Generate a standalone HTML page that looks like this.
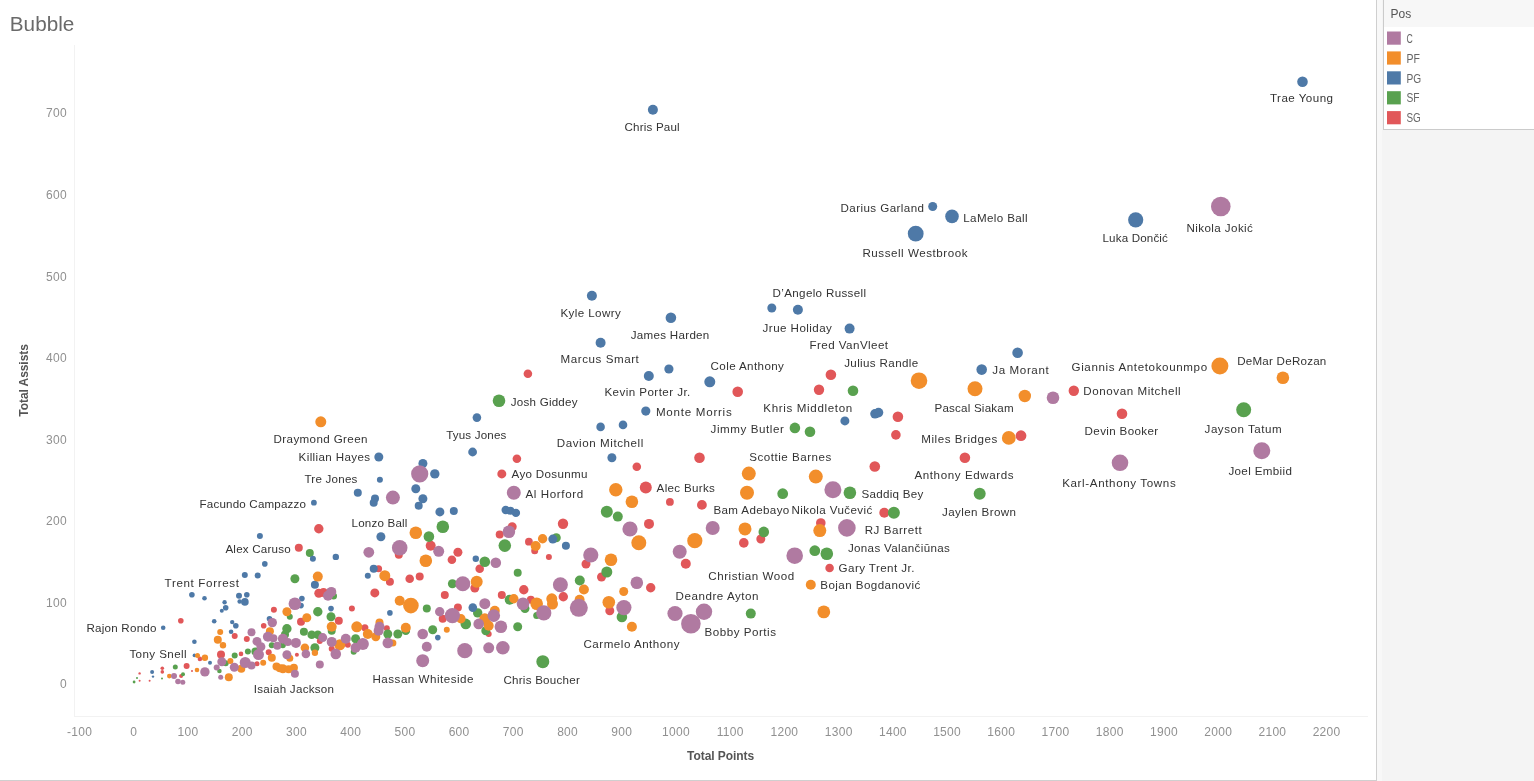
<!DOCTYPE html>
<html><head><meta charset="utf-8"><title>Bubble</title>
<style>
html,body{margin:0;padding:0;background:#fff;}
body{width:1534px;height:781px;overflow:hidden;position:relative;font-family:"Liberation Sans",sans-serif;}
svg{position:absolute;left:0;top:0;will-change:transform;}
text{font-family:"Liberation Sans",sans-serif;}
.lb{font-size:11.6px;fill:#333;}
.tk{font-size:12px;fill:#909090;letter-spacing:0.3px;}
.ax{font-size:12px;font-weight:bold;fill:#555;}
.lg{font-size:12px;fill:#666;}
</style></head><body>
<svg width="1534" height="781" viewBox="0 0 1534 781">
<rect x="0" y="0" width="1534" height="781" fill="#ffffff"/>
<!-- right panel -->
<rect x="1377" y="0" width="157" height="781" fill="#f4f4f4"/>
<rect x="1377" y="0" width="5" height="781" fill="#f8f8f8"/>
<rect x="1376" y="0" width="1" height="781" fill="#cfcfcf"/>
<rect x="0" y="780" width="1377" height="1" fill="#cfcfcf"/>
<!-- legend -->
<rect x="1383.5" y="-1" width="160" height="130.5" fill="#ffffff" stroke="#cbcbcb" stroke-width="1"/>
<rect x="1384" y="0" width="150" height="27" fill="#f7f7f7"/>
<text x="1390.5" y="18" class="lg" style="fill:#555">Pos</text>

<rect x="1387" y="31.5" width="13.8" height="13.2" fill="#b07aa1"/>
<text x="1406.5" y="42.7" class="lg" textLength="6.3" lengthAdjust="spacingAndGlyphs">C</text>
<rect x="1387" y="51.4" width="13.8" height="13.2" fill="#f28e2b"/>
<text x="1406.5" y="62.6" class="lg" textLength="13.4" lengthAdjust="spacingAndGlyphs">PF</text>
<rect x="1387" y="71.3" width="13.8" height="13.2" fill="#4e79a7"/>
<text x="1406.5" y="82.5" class="lg" textLength="14.7" lengthAdjust="spacingAndGlyphs">PG</text>
<rect x="1387" y="91.2" width="13.8" height="13.2" fill="#59a14f"/>
<text x="1406.5" y="102.4" class="lg" textLength="13.1" lengthAdjust="spacingAndGlyphs">SF</text>
<rect x="1387" y="111.1" width="13.8" height="13.2" fill="#e15759"/>
<text x="1406.5" y="122.3" class="lg" textLength="14.3" lengthAdjust="spacingAndGlyphs">SG</text>
<!-- title -->
<text x="9.8" y="31.3" style="font-size:20px;fill:#6a6a6a" textLength="64.5" lengthAdjust="spacingAndGlyphs">Bubble</text>
<!-- axes -->
<rect x="74" y="45" width="1" height="672" fill="#f2f2f2"/>
<rect x="74" y="716" width="1294" height="1" fill="#f2f2f2"/>

<text x="66.9" y="688.4" text-anchor="end" class="tk">0</text>
<text x="66.9" y="606.8" text-anchor="end" class="tk">100</text>
<text x="66.9" y="525.3" text-anchor="end" class="tk">200</text>
<text x="66.9" y="443.7" text-anchor="end" class="tk">300</text>
<text x="66.9" y="362.1" text-anchor="end" class="tk">400</text>
<text x="66.9" y="280.6" text-anchor="end" class="tk">500</text>
<text x="66.9" y="199.0" text-anchor="end" class="tk">600</text>
<text x="66.9" y="117.4" text-anchor="end" class="tk">700</text>
<text x="79.6" y="736" text-anchor="middle" class="tk">-100</text>
<text x="133.8" y="736" text-anchor="middle" class="tk">0</text>
<text x="188.0" y="736" text-anchor="middle" class="tk">100</text>
<text x="242.2" y="736" text-anchor="middle" class="tk">200</text>
<text x="296.5" y="736" text-anchor="middle" class="tk">300</text>
<text x="350.7" y="736" text-anchor="middle" class="tk">400</text>
<text x="404.9" y="736" text-anchor="middle" class="tk">500</text>
<text x="459.1" y="736" text-anchor="middle" class="tk">600</text>
<text x="513.3" y="736" text-anchor="middle" class="tk">700</text>
<text x="567.6" y="736" text-anchor="middle" class="tk">800</text>
<text x="621.8" y="736" text-anchor="middle" class="tk">900</text>
<text x="676.0" y="736" text-anchor="middle" class="tk">1000</text>
<text x="730.2" y="736" text-anchor="middle" class="tk">1100</text>
<text x="784.4" y="736" text-anchor="middle" class="tk">1200</text>
<text x="838.7" y="736" text-anchor="middle" class="tk">1300</text>
<text x="892.9" y="736" text-anchor="middle" class="tk">1400</text>
<text x="947.1" y="736" text-anchor="middle" class="tk">1500</text>
<text x="1001.3" y="736" text-anchor="middle" class="tk">1600</text>
<text x="1055.5" y="736" text-anchor="middle" class="tk">1700</text>
<text x="1109.8" y="736" text-anchor="middle" class="tk">1800</text>
<text x="1164.0" y="736" text-anchor="middle" class="tk">1900</text>
<text x="1218.2" y="736" text-anchor="middle" class="tk">2000</text>
<text x="1272.4" y="736" text-anchor="middle" class="tk">2100</text>
<text x="1326.6" y="736" text-anchor="middle" class="tk">2200</text>
<text x="720.6" y="760" text-anchor="middle" class="ax" textLength="67" lengthAdjust="spacing">Total Points</text>
<text transform="translate(27.7,380.4) rotate(-90)" text-anchor="middle" class="ax" textLength="72.5" lengthAdjust="spacing">Total Assists</text>
<g>
<circle cx="1073.8" cy="390.7" r="5.2" fill="#e15759"/>
<circle cx="1122.0" cy="413.8" r="5.3" fill="#e15759"/>
<circle cx="1021.0" cy="435.7" r="5.4" fill="#e15759"/>
<circle cx="527.9" cy="373.7" r="4.3" fill="#e15759"/>
<circle cx="737.7" cy="391.8" r="5.3" fill="#e15759"/>
<circle cx="819.0" cy="389.8" r="5.2" fill="#e15759"/>
<circle cx="830.9" cy="374.7" r="5.3" fill="#e15759"/>
<circle cx="897.9" cy="416.8" r="5.3" fill="#e15759"/>
<circle cx="895.9" cy="434.9" r="4.8" fill="#e15759"/>
<circle cx="964.9" cy="457.8" r="5.3" fill="#e15759"/>
<circle cx="874.8" cy="466.5" r="5.3" fill="#e15759"/>
<circle cx="884.3" cy="512.8" r="5.0" fill="#e15759"/>
<circle cx="820.8" cy="523.0" r="4.8" fill="#e15759"/>
<circle cx="760.8" cy="539.0" r="4.5" fill="#e15759"/>
<circle cx="743.8" cy="542.9" r="4.8" fill="#e15759"/>
<circle cx="829.6" cy="568.0" r="4.3" fill="#e15759"/>
<circle cx="699.5" cy="457.8" r="5.3" fill="#e15759"/>
<circle cx="636.8" cy="466.7" r="4.3" fill="#e15759"/>
<circle cx="645.8" cy="487.6" r="6.0" fill="#e15759"/>
<circle cx="669.9" cy="501.9" r="3.9" fill="#e15759"/>
<circle cx="701.9" cy="504.9" r="4.9" fill="#e15759"/>
<circle cx="563.0" cy="523.8" r="5.2" fill="#e15759"/>
<circle cx="649.0" cy="523.9" r="5.0" fill="#e15759"/>
<circle cx="586.0" cy="564.0" r="4.5" fill="#e15759"/>
<circle cx="601.5" cy="577.0" r="4.5" fill="#e15759"/>
<circle cx="650.7" cy="587.8" r="4.7" fill="#e15759"/>
<circle cx="685.8" cy="563.8" r="5.0" fill="#e15759"/>
<circle cx="563.3" cy="596.8" r="4.7" fill="#e15759"/>
<circle cx="609.8" cy="610.8" r="4.5" fill="#e15759"/>
<circle cx="516.9" cy="458.8" r="4.3" fill="#e15759"/>
<circle cx="501.8" cy="473.9" r="4.5" fill="#e15759"/>
<circle cx="318.8" cy="528.8" r="4.7" fill="#e15759"/>
<circle cx="512.2" cy="526.8" r="4.5" fill="#e15759"/>
<circle cx="499.7" cy="534.6" r="4.0" fill="#e15759"/>
<circle cx="528.9" cy="541.7" r="3.9" fill="#e15759"/>
<circle cx="298.8" cy="547.7" r="4.0" fill="#e15759"/>
<circle cx="398.8" cy="554.7" r="4.0" fill="#e15759"/>
<circle cx="430.7" cy="545.8" r="5.0" fill="#e15759"/>
<circle cx="457.9" cy="552.3" r="4.5" fill="#e15759"/>
<circle cx="451.9" cy="559.8" r="4.3" fill="#e15759"/>
<circle cx="479.7" cy="568.8" r="4.3" fill="#e15759"/>
<circle cx="534.7" cy="550.8" r="3.5" fill="#e15759"/>
<circle cx="548.9" cy="556.9" r="3.0" fill="#e15759"/>
<circle cx="378.6" cy="568.8" r="3.5" fill="#e15759"/>
<circle cx="389.9" cy="581.7" r="4.0" fill="#e15759"/>
<circle cx="409.7" cy="578.8" r="4.3" fill="#e15759"/>
<circle cx="419.7" cy="576.6" r="4.0" fill="#e15759"/>
<circle cx="318.8" cy="593.3" r="4.5" fill="#e15759"/>
<circle cx="323.5" cy="592.5" r="4.5" fill="#e15759"/>
<circle cx="374.8" cy="592.9" r="4.5" fill="#e15759"/>
<circle cx="351.9" cy="608.6" r="3.0" fill="#e15759"/>
<circle cx="338.8" cy="620.7" r="4.0" fill="#e15759"/>
<circle cx="301.0" cy="621.7" r="4.0" fill="#e15759"/>
<circle cx="444.8" cy="594.9" r="4.0" fill="#e15759"/>
<circle cx="474.8" cy="588.0" r="4.5" fill="#e15759"/>
<circle cx="457.9" cy="607.6" r="4.0" fill="#e15759"/>
<circle cx="442.7" cy="618.8" r="4.0" fill="#e15759"/>
<circle cx="488.7" cy="634.0" r="3.0" fill="#e15759"/>
<circle cx="501.8" cy="594.9" r="4.0" fill="#e15759"/>
<circle cx="523.8" cy="589.8" r="4.7" fill="#e15759"/>
<circle cx="530.8" cy="599.8" r="4.0" fill="#e15759"/>
<circle cx="319.8" cy="640.9" r="3.0" fill="#e15759"/>
<circle cx="296.9" cy="654.8" r="2.0" fill="#e15759"/>
<circle cx="331.7" cy="648.8" r="3.0" fill="#e15759"/>
<circle cx="347.8" cy="644.8" r="3.0" fill="#e15759"/>
<circle cx="364.9" cy="627.8" r="3.5" fill="#e15759"/>
<circle cx="386.8" cy="628.2" r="3.0" fill="#e15759"/>
<circle cx="273.9" cy="609.7" r="3.0" fill="#e15759"/>
<circle cx="180.8" cy="620.7" r="2.8" fill="#e15759"/>
<circle cx="263.7" cy="625.7" r="2.8" fill="#e15759"/>
<circle cx="234.7" cy="635.9" r="3.0" fill="#e15759"/>
<circle cx="246.8" cy="639.0" r="3.0" fill="#e15759"/>
<circle cx="241.0" cy="653.9" r="2.3" fill="#e15759"/>
<circle cx="268.7" cy="652.3" r="3.0" fill="#e15759"/>
<circle cx="199.9" cy="658.9" r="2.3" fill="#e15759"/>
<circle cx="221.0" cy="654.6" r="4.0" fill="#e15759"/>
<circle cx="186.6" cy="665.9" r="3.0" fill="#e15759"/>
<circle cx="162.3" cy="668.3" r="1.8" fill="#e15759"/>
<circle cx="162.3" cy="671.9" r="1.8" fill="#e15759"/>
<circle cx="139.6" cy="673.4" r="1.2" fill="#e15759"/>
<circle cx="192.0" cy="671.0" r="1.0" fill="#e15759"/>
<circle cx="257.0" cy="663.7" r="2.5" fill="#e15759"/>
<circle cx="181.1" cy="676.1" r="2.0" fill="#e15759"/>
<circle cx="149.6" cy="680.8" r="1.0" fill="#e15759"/>
<circle cx="139.6" cy="680.7" r="1.0" fill="#e15759"/>
<circle cx="1243.7" cy="409.8" r="7.5" fill="#59a14f"/>
<circle cx="499.0" cy="400.8" r="6.3" fill="#59a14f"/>
<circle cx="794.9" cy="427.9" r="5.3" fill="#59a14f"/>
<circle cx="810.0" cy="431.7" r="5.3" fill="#59a14f"/>
<circle cx="853.0" cy="390.7" r="5.3" fill="#59a14f"/>
<circle cx="782.7" cy="493.7" r="5.4" fill="#59a14f"/>
<circle cx="849.9" cy="492.7" r="6.3" fill="#59a14f"/>
<circle cx="979.7" cy="493.7" r="6.0" fill="#59a14f"/>
<circle cx="893.9" cy="512.8" r="6.0" fill="#59a14f"/>
<circle cx="763.8" cy="531.9" r="5.3" fill="#59a14f"/>
<circle cx="814.8" cy="550.7" r="5.4" fill="#59a14f"/>
<circle cx="826.8" cy="553.7" r="6.3" fill="#59a14f"/>
<circle cx="750.8" cy="613.6" r="5.0" fill="#59a14f"/>
<circle cx="606.8" cy="511.7" r="6.0" fill="#59a14f"/>
<circle cx="617.8" cy="516.6" r="5.0" fill="#59a14f"/>
<circle cx="606.8" cy="572.0" r="5.5" fill="#59a14f"/>
<circle cx="579.8" cy="580.5" r="5.0" fill="#59a14f"/>
<circle cx="621.9" cy="617.0" r="5.3" fill="#59a14f"/>
<circle cx="442.8" cy="526.8" r="6.3" fill="#59a14f"/>
<circle cx="428.9" cy="536.6" r="5.3" fill="#59a14f"/>
<circle cx="504.8" cy="545.6" r="6.3" fill="#59a14f"/>
<circle cx="556.3" cy="537.8" r="4.5" fill="#59a14f"/>
<circle cx="309.8" cy="553.0" r="4.0" fill="#59a14f"/>
<circle cx="484.8" cy="561.8" r="5.3" fill="#59a14f"/>
<circle cx="517.7" cy="572.7" r="4.0" fill="#59a14f"/>
<circle cx="294.9" cy="578.8" r="4.5" fill="#59a14f"/>
<circle cx="333.5" cy="596.0" r="3.5" fill="#59a14f"/>
<circle cx="289.8" cy="616.8" r="3.0" fill="#59a14f"/>
<circle cx="317.8" cy="611.7" r="4.7" fill="#59a14f"/>
<circle cx="331.0" cy="616.8" r="4.5" fill="#59a14f"/>
<circle cx="426.8" cy="608.6" r="4.0" fill="#59a14f"/>
<circle cx="452.4" cy="583.7" r="4.5" fill="#59a14f"/>
<circle cx="465.8" cy="623.9" r="5.3" fill="#59a14f"/>
<circle cx="477.7" cy="612.9" r="4.7" fill="#59a14f"/>
<circle cx="485.8" cy="630.7" r="4.5" fill="#59a14f"/>
<circle cx="517.7" cy="626.8" r="4.5" fill="#59a14f"/>
<circle cx="509.7" cy="599.8" r="5.0" fill="#59a14f"/>
<circle cx="525.0" cy="608.6" r="4.5" fill="#59a14f"/>
<circle cx="536.7" cy="615.6" r="3.5" fill="#59a14f"/>
<circle cx="286.9" cy="628.8" r="4.7" fill="#59a14f"/>
<circle cx="303.9" cy="631.7" r="4.0" fill="#59a14f"/>
<circle cx="311.7" cy="634.8" r="4.3" fill="#59a14f"/>
<circle cx="317.8" cy="634.8" r="4.3" fill="#59a14f"/>
<circle cx="331.7" cy="630.7" r="4.0" fill="#59a14f"/>
<circle cx="314.9" cy="647.8" r="4.5" fill="#59a14f"/>
<circle cx="355.6" cy="638.8" r="4.5" fill="#59a14f"/>
<circle cx="353.7" cy="651.7" r="3.0" fill="#59a14f"/>
<circle cx="387.8" cy="634.0" r="4.5" fill="#59a14f"/>
<circle cx="397.8" cy="634.0" r="4.5" fill="#59a14f"/>
<circle cx="405.8" cy="630.7" r="4.3" fill="#59a14f"/>
<circle cx="432.7" cy="629.8" r="4.5" fill="#59a14f"/>
<circle cx="542.8" cy="661.7" r="6.5" fill="#59a14f"/>
<circle cx="285.0" cy="634.5" r="4.0" fill="#59a14f"/>
<circle cx="271.8" cy="645.3" r="3.0" fill="#59a14f"/>
<circle cx="282.8" cy="645.3" r="3.0" fill="#59a14f"/>
<circle cx="255.4" cy="651.5" r="4.0" fill="#59a14f"/>
<circle cx="247.9" cy="651.5" r="3.0" fill="#59a14f"/>
<circle cx="234.7" cy="655.4" r="3.0" fill="#59a14f"/>
<circle cx="225.7" cy="663.3" r="3.0" fill="#59a14f"/>
<circle cx="175.3" cy="666.9" r="2.5" fill="#59a14f"/>
<circle cx="219.4" cy="671.0" r="2.3" fill="#59a14f"/>
<circle cx="183.0" cy="674.2" r="2.0" fill="#59a14f"/>
<circle cx="137.0" cy="678.0" r="1.0" fill="#59a14f"/>
<circle cx="162.0" cy="678.5" r="1.0" fill="#59a14f"/>
<circle cx="134.1" cy="682.0" r="1.4" fill="#59a14f"/>
<circle cx="1302.5" cy="81.8" r="5.3" fill="#4e79a7"/>
<circle cx="932.7" cy="206.5" r="4.5" fill="#4e79a7"/>
<circle cx="952.0" cy="216.4" r="6.8" fill="#4e79a7"/>
<circle cx="915.7" cy="233.7" r="7.9" fill="#4e79a7"/>
<circle cx="1135.7" cy="219.8" r="7.6" fill="#4e79a7"/>
<circle cx="849.6" cy="328.6" r="5.0" fill="#4e79a7"/>
<circle cx="1017.6" cy="352.8" r="5.3" fill="#4e79a7"/>
<circle cx="652.9" cy="109.7" r="5.0" fill="#4e79a7"/>
<circle cx="591.9" cy="295.7" r="5.0" fill="#4e79a7"/>
<circle cx="670.9" cy="317.7" r="5.3" fill="#4e79a7"/>
<circle cx="600.6" cy="342.8" r="5.0" fill="#4e79a7"/>
<circle cx="771.8" cy="308.0" r="4.5" fill="#4e79a7"/>
<circle cx="797.9" cy="309.7" r="5.0" fill="#4e79a7"/>
<circle cx="648.8" cy="376.0" r="5.0" fill="#4e79a7"/>
<circle cx="668.9" cy="369.0" r="4.6" fill="#4e79a7"/>
<circle cx="709.8" cy="381.8" r="5.5" fill="#4e79a7"/>
<circle cx="476.9" cy="417.6" r="4.3" fill="#4e79a7"/>
<circle cx="645.8" cy="411.1" r="4.6" fill="#4e79a7"/>
<circle cx="600.6" cy="426.9" r="4.3" fill="#4e79a7"/>
<circle cx="623.0" cy="424.9" r="4.3" fill="#4e79a7"/>
<circle cx="472.6" cy="452.0" r="4.4" fill="#4e79a7"/>
<circle cx="981.7" cy="369.6" r="5.3" fill="#4e79a7"/>
<circle cx="875.0" cy="413.8" r="4.8" fill="#4e79a7"/>
<circle cx="878.5" cy="412.6" r="4.8" fill="#4e79a7"/>
<circle cx="844.9" cy="420.9" r="4.5" fill="#4e79a7"/>
<circle cx="611.9" cy="457.8" r="4.5" fill="#4e79a7"/>
<circle cx="565.9" cy="545.8" r="4.0" fill="#4e79a7"/>
<circle cx="378.8" cy="457.0" r="4.5" fill="#4e79a7"/>
<circle cx="422.9" cy="463.5" r="4.5" fill="#4e79a7"/>
<circle cx="434.8" cy="473.9" r="4.7" fill="#4e79a7"/>
<circle cx="379.9" cy="479.8" r="3.0" fill="#4e79a7"/>
<circle cx="415.8" cy="488.8" r="4.5" fill="#4e79a7"/>
<circle cx="357.8" cy="492.7" r="4.0" fill="#4e79a7"/>
<circle cx="375.0" cy="498.6" r="4.0" fill="#4e79a7"/>
<circle cx="373.7" cy="502.7" r="4.0" fill="#4e79a7"/>
<circle cx="422.9" cy="498.8" r="4.5" fill="#4e79a7"/>
<circle cx="418.7" cy="505.8" r="4.0" fill="#4e79a7"/>
<circle cx="313.9" cy="502.7" r="2.9" fill="#4e79a7"/>
<circle cx="439.9" cy="511.9" r="4.5" fill="#4e79a7"/>
<circle cx="453.8" cy="510.9" r="4.0" fill="#4e79a7"/>
<circle cx="505.7" cy="510.0" r="4.2" fill="#4e79a7"/>
<circle cx="510.3" cy="510.7" r="4.0" fill="#4e79a7"/>
<circle cx="515.9" cy="512.9" r="4.2" fill="#4e79a7"/>
<circle cx="380.9" cy="536.8" r="4.5" fill="#4e79a7"/>
<circle cx="552.8" cy="539.1" r="4.5" fill="#4e79a7"/>
<circle cx="312.9" cy="558.8" r="3.0" fill="#4e79a7"/>
<circle cx="335.8" cy="556.9" r="3.2" fill="#4e79a7"/>
<circle cx="475.8" cy="558.8" r="3.2" fill="#4e79a7"/>
<circle cx="373.7" cy="568.8" r="4.0" fill="#4e79a7"/>
<circle cx="367.8" cy="575.7" r="3.0" fill="#4e79a7"/>
<circle cx="314.9" cy="584.7" r="4.0" fill="#4e79a7"/>
<circle cx="301.9" cy="598.6" r="2.8" fill="#4e79a7"/>
<circle cx="301.0" cy="605.6" r="2.8" fill="#4e79a7"/>
<circle cx="331.0" cy="608.6" r="2.8" fill="#4e79a7"/>
<circle cx="389.9" cy="612.9" r="2.8" fill="#4e79a7"/>
<circle cx="472.8" cy="607.6" r="4.3" fill="#4e79a7"/>
<circle cx="437.8" cy="637.6" r="2.8" fill="#4e79a7"/>
<circle cx="264.8" cy="563.9" r="2.8" fill="#4e79a7"/>
<circle cx="244.8" cy="574.9" r="3.0" fill="#4e79a7"/>
<circle cx="257.7" cy="575.6" r="3.0" fill="#4e79a7"/>
<circle cx="191.9" cy="594.7" r="2.8" fill="#4e79a7"/>
<circle cx="204.5" cy="598.3" r="2.3" fill="#4e79a7"/>
<circle cx="239.0" cy="595.7" r="3.0" fill="#4e79a7"/>
<circle cx="246.8" cy="594.7" r="2.8" fill="#4e79a7"/>
<circle cx="239.7" cy="601.5" r="2.3" fill="#4e79a7"/>
<circle cx="244.9" cy="601.9" r="3.8" fill="#4e79a7"/>
<circle cx="224.6" cy="602.2" r="2.2" fill="#4e79a7"/>
<circle cx="225.7" cy="607.7" r="2.8" fill="#4e79a7"/>
<circle cx="221.8" cy="610.8" r="2.0" fill="#4e79a7"/>
<circle cx="163.2" cy="627.7" r="2.3" fill="#4e79a7"/>
<circle cx="214.2" cy="621.3" r="2.3" fill="#4e79a7"/>
<circle cx="232.2" cy="622.1" r="2.2" fill="#4e79a7"/>
<circle cx="235.8" cy="625.7" r="2.8" fill="#4e79a7"/>
<circle cx="231.1" cy="631.7" r="2.3" fill="#4e79a7"/>
<circle cx="269.5" cy="618.7" r="2.8" fill="#4e79a7"/>
<circle cx="194.4" cy="641.7" r="2.3" fill="#4e79a7"/>
<circle cx="194.4" cy="655.4" r="1.8" fill="#4e79a7"/>
<circle cx="210.0" cy="662.8" r="2.0" fill="#4e79a7"/>
<circle cx="152.1" cy="671.9" r="2.0" fill="#4e79a7"/>
<circle cx="153.0" cy="676.6" r="1.2" fill="#4e79a7"/>
<circle cx="259.9" cy="535.9" r="3.0" fill="#4e79a7"/>
<circle cx="1219.9" cy="365.9" r="8.5" fill="#f28e2b"/>
<circle cx="1282.9" cy="377.7" r="6.3" fill="#f28e2b"/>
<circle cx="1024.8" cy="396.0" r="6.2" fill="#f28e2b"/>
<circle cx="1008.8" cy="437.9" r="6.9" fill="#f28e2b"/>
<circle cx="919.0" cy="380.7" r="8.3" fill="#f28e2b"/>
<circle cx="975.0" cy="388.7" r="7.5" fill="#f28e2b"/>
<circle cx="748.8" cy="473.6" r="7.0" fill="#f28e2b"/>
<circle cx="815.8" cy="476.6" r="7.0" fill="#f28e2b"/>
<circle cx="747.0" cy="492.7" r="7.0" fill="#f28e2b"/>
<circle cx="819.8" cy="530.6" r="6.5" fill="#f28e2b"/>
<circle cx="745.0" cy="528.9" r="6.5" fill="#f28e2b"/>
<circle cx="810.8" cy="584.8" r="5.0" fill="#f28e2b"/>
<circle cx="823.8" cy="611.9" r="6.4" fill="#f28e2b"/>
<circle cx="615.8" cy="489.8" r="6.7" fill="#f28e2b"/>
<circle cx="631.9" cy="501.7" r="6.3" fill="#f28e2b"/>
<circle cx="638.8" cy="542.7" r="7.5" fill="#f28e2b"/>
<circle cx="611.0" cy="559.7" r="6.3" fill="#f28e2b"/>
<circle cx="583.9" cy="589.5" r="5.0" fill="#f28e2b"/>
<circle cx="623.7" cy="591.5" r="4.5" fill="#f28e2b"/>
<circle cx="694.8" cy="540.7" r="7.6" fill="#f28e2b"/>
<circle cx="579.6" cy="599.8" r="5.0" fill="#f28e2b"/>
<circle cx="608.8" cy="602.3" r="6.3" fill="#f28e2b"/>
<circle cx="631.9" cy="626.8" r="5.0" fill="#f28e2b"/>
<circle cx="320.8" cy="421.8" r="5.5" fill="#f28e2b"/>
<circle cx="415.8" cy="532.7" r="6.3" fill="#f28e2b"/>
<circle cx="542.6" cy="538.7" r="4.7" fill="#f28e2b"/>
<circle cx="535.7" cy="546.0" r="5.0" fill="#f28e2b"/>
<circle cx="425.8" cy="560.8" r="6.3" fill="#f28e2b"/>
<circle cx="384.8" cy="575.7" r="5.5" fill="#f28e2b"/>
<circle cx="317.8" cy="576.6" r="5.0" fill="#f28e2b"/>
<circle cx="286.9" cy="611.7" r="4.5" fill="#f28e2b"/>
<circle cx="306.8" cy="617.8" r="4.5" fill="#f28e2b"/>
<circle cx="399.7" cy="600.7" r="5.0" fill="#f28e2b"/>
<circle cx="410.9" cy="605.6" r="7.8" fill="#f28e2b"/>
<circle cx="476.7" cy="581.7" r="6.0" fill="#f28e2b"/>
<circle cx="460.9" cy="618.8" r="4.7" fill="#f28e2b"/>
<circle cx="494.8" cy="610.7" r="5.0" fill="#f28e2b"/>
<circle cx="484.8" cy="618.8" r="5.5" fill="#f28e2b"/>
<circle cx="488.7" cy="625.8" r="5.0" fill="#f28e2b"/>
<circle cx="513.8" cy="598.8" r="4.7" fill="#f28e2b"/>
<circle cx="536.7" cy="603.7" r="6.3" fill="#f28e2b"/>
<circle cx="551.8" cy="598.8" r="5.5" fill="#f28e2b"/>
<circle cx="552.5" cy="604.0" r="5.5" fill="#f28e2b"/>
<circle cx="331.7" cy="626.8" r="5.0" fill="#f28e2b"/>
<circle cx="304.9" cy="647.8" r="4.3" fill="#f28e2b"/>
<circle cx="314.9" cy="652.7" r="3.2" fill="#f28e2b"/>
<circle cx="289.8" cy="658.2" r="3.5" fill="#f28e2b"/>
<circle cx="339.8" cy="644.8" r="5.5" fill="#f28e2b"/>
<circle cx="356.8" cy="626.8" r="5.5" fill="#f28e2b"/>
<circle cx="367.8" cy="634.0" r="5.0" fill="#f28e2b"/>
<circle cx="375.8" cy="636.8" r="4.5" fill="#f28e2b"/>
<circle cx="379.5" cy="622.5" r="4.0" fill="#f28e2b"/>
<circle cx="392.9" cy="642.9" r="3.5" fill="#f28e2b"/>
<circle cx="405.8" cy="627.8" r="5.0" fill="#f28e2b"/>
<circle cx="446.8" cy="629.8" r="3.0" fill="#f28e2b"/>
<circle cx="282.9" cy="668.7" r="4.5" fill="#f28e2b"/>
<circle cx="293.9" cy="667.8" r="4.0" fill="#f28e2b"/>
<circle cx="269.9" cy="631.2" r="4.0" fill="#f28e2b"/>
<circle cx="220.2" cy="632.0" r="3.0" fill="#f28e2b"/>
<circle cx="217.8" cy="639.8" r="4.0" fill="#f28e2b"/>
<circle cx="223.0" cy="645.3" r="3.2" fill="#f28e2b"/>
<circle cx="271.8" cy="657.8" r="4.0" fill="#f28e2b"/>
<circle cx="197.5" cy="655.4" r="2.5" fill="#f28e2b"/>
<circle cx="204.9" cy="657.8" r="3.2" fill="#f28e2b"/>
<circle cx="230.4" cy="660.9" r="3.0" fill="#f28e2b"/>
<circle cx="197.0" cy="670.0" r="2.3" fill="#f28e2b"/>
<circle cx="241.3" cy="668.7" r="4.0" fill="#f28e2b"/>
<circle cx="263.2" cy="662.8" r="3.0" fill="#f28e2b"/>
<circle cx="276.5" cy="666.4" r="4.0" fill="#f28e2b"/>
<circle cx="228.8" cy="677.3" r="4.0" fill="#f28e2b"/>
<circle cx="169.3" cy="676.1" r="2.3" fill="#f28e2b"/>
<circle cx="279.8" cy="668.3" r="4.0" fill="#f28e2b"/>
<circle cx="288.6" cy="669.3" r="4.0" fill="#f28e2b"/>
<circle cx="1220.8" cy="206.5" r="9.8" fill="#b07aa1"/>
<circle cx="1053.0" cy="397.8" r="6.3" fill="#b07aa1"/>
<circle cx="1120.0" cy="462.8" r="8.3" fill="#b07aa1"/>
<circle cx="1261.8" cy="450.7" r="8.5" fill="#b07aa1"/>
<circle cx="832.9" cy="489.7" r="8.5" fill="#b07aa1"/>
<circle cx="846.9" cy="527.9" r="8.8" fill="#b07aa1"/>
<circle cx="794.7" cy="555.7" r="8.3" fill="#b07aa1"/>
<circle cx="630.0" cy="529.0" r="7.6" fill="#b07aa1"/>
<circle cx="590.8" cy="555.0" r="7.6" fill="#b07aa1"/>
<circle cx="560.4" cy="584.8" r="7.5" fill="#b07aa1"/>
<circle cx="636.8" cy="582.8" r="6.3" fill="#b07aa1"/>
<circle cx="712.7" cy="528.0" r="7.0" fill="#b07aa1"/>
<circle cx="679.7" cy="551.7" r="7.0" fill="#b07aa1"/>
<circle cx="578.8" cy="607.8" r="9.0" fill="#b07aa1"/>
<circle cx="623.9" cy="607.6" r="7.6" fill="#b07aa1"/>
<circle cx="675.0" cy="613.5" r="7.6" fill="#b07aa1"/>
<circle cx="704.0" cy="611.7" r="8.2" fill="#b07aa1"/>
<circle cx="690.9" cy="623.7" r="9.8" fill="#b07aa1"/>
<circle cx="419.7" cy="473.9" r="8.6" fill="#b07aa1"/>
<circle cx="513.8" cy="492.7" r="7.0" fill="#b07aa1"/>
<circle cx="392.9" cy="497.6" r="7.0" fill="#b07aa1"/>
<circle cx="508.9" cy="531.7" r="6.3" fill="#b07aa1"/>
<circle cx="399.7" cy="547.8" r="7.8" fill="#b07aa1"/>
<circle cx="368.8" cy="552.3" r="5.4" fill="#b07aa1"/>
<circle cx="438.7" cy="551.3" r="5.5" fill="#b07aa1"/>
<circle cx="495.8" cy="562.7" r="5.3" fill="#b07aa1"/>
<circle cx="328.0" cy="595.8" r="5.0" fill="#b07aa1"/>
<circle cx="331.3" cy="591.9" r="5.0" fill="#b07aa1"/>
<circle cx="294.9" cy="603.7" r="6.3" fill="#b07aa1"/>
<circle cx="462.8" cy="583.7" r="7.5" fill="#b07aa1"/>
<circle cx="439.7" cy="611.7" r="4.7" fill="#b07aa1"/>
<circle cx="452.4" cy="615.6" r="7.6" fill="#b07aa1"/>
<circle cx="484.8" cy="603.7" r="5.5" fill="#b07aa1"/>
<circle cx="493.8" cy="615.6" r="6.3" fill="#b07aa1"/>
<circle cx="478.7" cy="623.9" r="5.3" fill="#b07aa1"/>
<circle cx="500.9" cy="626.8" r="6.3" fill="#b07aa1"/>
<circle cx="523.0" cy="603.7" r="6.3" fill="#b07aa1"/>
<circle cx="543.8" cy="612.9" r="7.6" fill="#b07aa1"/>
<circle cx="322.7" cy="637.6" r="4.5" fill="#b07aa1"/>
<circle cx="282.9" cy="638.8" r="5.0" fill="#b07aa1"/>
<circle cx="287.8" cy="641.9" r="4.0" fill="#b07aa1"/>
<circle cx="295.9" cy="642.9" r="5.0" fill="#b07aa1"/>
<circle cx="305.9" cy="653.9" r="4.3" fill="#b07aa1"/>
<circle cx="286.9" cy="654.8" r="4.5" fill="#b07aa1"/>
<circle cx="331.7" cy="641.9" r="5.0" fill="#b07aa1"/>
<circle cx="335.8" cy="653.9" r="5.3" fill="#b07aa1"/>
<circle cx="345.8" cy="638.8" r="5.0" fill="#b07aa1"/>
<circle cx="355.6" cy="647.8" r="5.0" fill="#b07aa1"/>
<circle cx="362.9" cy="643.9" r="6.0" fill="#b07aa1"/>
<circle cx="379.5" cy="626.8" r="5.0" fill="#b07aa1"/>
<circle cx="378.6" cy="630.7" r="5.0" fill="#b07aa1"/>
<circle cx="387.8" cy="642.9" r="5.3" fill="#b07aa1"/>
<circle cx="422.7" cy="634.0" r="5.3" fill="#b07aa1"/>
<circle cx="426.8" cy="646.8" r="5.0" fill="#b07aa1"/>
<circle cx="422.7" cy="660.7" r="6.5" fill="#b07aa1"/>
<circle cx="464.8" cy="650.7" r="7.6" fill="#b07aa1"/>
<circle cx="488.7" cy="647.8" r="5.5" fill="#b07aa1"/>
<circle cx="502.8" cy="647.8" r="6.8" fill="#b07aa1"/>
<circle cx="319.8" cy="664.6" r="4.0" fill="#b07aa1"/>
<circle cx="294.9" cy="673.8" r="4.0" fill="#b07aa1"/>
<circle cx="272.3" cy="622.6" r="4.7" fill="#b07aa1"/>
<circle cx="251.5" cy="632.3" r="4.0" fill="#b07aa1"/>
<circle cx="267.9" cy="636.7" r="5.0" fill="#b07aa1"/>
<circle cx="273.4" cy="638.2" r="4.0" fill="#b07aa1"/>
<circle cx="257.0" cy="641.4" r="4.5" fill="#b07aa1"/>
<circle cx="277.3" cy="645.7" r="4.0" fill="#b07aa1"/>
<circle cx="260.9" cy="646.8" r="4.5" fill="#b07aa1"/>
<circle cx="258.5" cy="654.6" r="5.5" fill="#b07aa1"/>
<circle cx="221.8" cy="661.7" r="4.5" fill="#b07aa1"/>
<circle cx="204.9" cy="671.9" r="4.7" fill="#b07aa1"/>
<circle cx="216.7" cy="667.6" r="3.0" fill="#b07aa1"/>
<circle cx="234.3" cy="667.2" r="4.5" fill="#b07aa1"/>
<circle cx="245.2" cy="662.5" r="5.5" fill="#b07aa1"/>
<circle cx="251.5" cy="665.6" r="4.0" fill="#b07aa1"/>
<circle cx="220.7" cy="677.3" r="2.5" fill="#b07aa1"/>
<circle cx="174.0" cy="676.1" r="3.0" fill="#b07aa1"/>
<circle cx="178.0" cy="681.5" r="2.8" fill="#b07aa1"/>
<circle cx="182.8" cy="682.3" r="2.5" fill="#b07aa1"/>
</g><g>
<text x="1270.0" y="102.3" class="lb" textLength="63.0" lengthAdjust="spacing">Trae Young</text>
<text x="624.5" y="131.1" class="lb" textLength="55.2" lengthAdjust="spacing">Chris Paul</text>
<text x="840.5" y="211.6" class="lb" textLength="83.5" lengthAdjust="spacing">Darius Garland</text>
<text x="963.3" y="221.8" class="lb" textLength="64.3" lengthAdjust="spacing">LaMelo Ball</text>
<text x="862.4" y="256.9" class="lb" textLength="105.1" lengthAdjust="spacing">Russell Westbrook</text>
<text x="1102.5" y="242.2" class="lb" textLength="65.4" lengthAdjust="spacing">Luka Dončić</text>
<text x="1186.4" y="232.0" class="lb" textLength="66.5" lengthAdjust="spacing">Nikola Jokić</text>
<text x="772.6" y="297.4" class="lb" textLength="93.4" lengthAdjust="spacing">D’Angelo Russell</text>
<text x="560.5" y="317.3" class="lb" textLength="60.2" lengthAdjust="spacing">Kyle Lowry</text>
<text x="762.6" y="331.5" class="lb" textLength="69.3" lengthAdjust="spacing">Jrue Holiday</text>
<text x="630.8" y="339.1" class="lb" textLength="78.5" lengthAdjust="spacing">James Harden</text>
<text x="809.5" y="349.1" class="lb" textLength="78.6" lengthAdjust="spacing">Fred VanVleet</text>
<text x="560.5" y="363.2" class="lb" textLength="78.3" lengthAdjust="spacing">Marcus Smart</text>
<text x="844.2" y="367.2" class="lb" textLength="74.0" lengthAdjust="spacing">Julius Randle</text>
<text x="710.6" y="370.3" class="lb" textLength="73.3" lengthAdjust="spacing">Cole Anthony</text>
<text x="992.3" y="374.2" class="lb" textLength="56.4" lengthAdjust="spacing">Ja Morant</text>
<text x="1071.5" y="371.4" class="lb" textLength="135.6" lengthAdjust="spacing">Giannis Antetokounmpo</text>
<text x="1237.2" y="365.2" class="lb" textLength="89.1" lengthAdjust="spacing">DeMar DeRozan</text>
<text x="1083.3" y="395.3" class="lb" textLength="97.4" lengthAdjust="spacing">Donovan Mitchell</text>
<text x="604.4" y="396.1" class="lb" textLength="85.9" lengthAdjust="spacing">Kevin Porter Jr.</text>
<text x="510.8" y="405.9" class="lb" textLength="66.7" lengthAdjust="spacing">Josh Giddey</text>
<text x="655.9" y="415.9" class="lb" textLength="75.8" lengthAdjust="spacing">Monte Morris</text>
<text x="763.3" y="412.1" class="lb" textLength="88.9" lengthAdjust="spacing">Khris Middleton</text>
<text x="934.5" y="412.1" class="lb" textLength="79.1" lengthAdjust="spacing">Pascal Siakam</text>
<text x="710.6" y="433.0" class="lb" textLength="73.3" lengthAdjust="spacing">Jimmy Butler</text>
<text x="1084.6" y="435.2" class="lb" textLength="73.5" lengthAdjust="spacing">Devin Booker</text>
<text x="1204.6" y="433.2" class="lb" textLength="77.0" lengthAdjust="spacing">Jayson Tatum</text>
<text x="446.2" y="438.6" class="lb" textLength="60.1" lengthAdjust="spacing">Tyus Jones</text>
<text x="273.6" y="443.1" class="lb" textLength="93.8" lengthAdjust="spacing">Draymond Green</text>
<text x="921.2" y="443.0" class="lb" textLength="76.1" lengthAdjust="spacing">Miles Bridges</text>
<text x="556.7" y="447.3" class="lb" textLength="86.6" lengthAdjust="spacing">Davion Mitchell</text>
<text x="298.6" y="461.3" class="lb" textLength="71.5" lengthAdjust="spacing">Killian Hayes</text>
<text x="749.3" y="461.3" class="lb" textLength="81.9" lengthAdjust="spacing">Scottie Barnes</text>
<text x="914.4" y="478.9" class="lb" textLength="99.2" lengthAdjust="spacing">Anthony Edwards</text>
<text x="1228.4" y="474.9" class="lb" textLength="63.5" lengthAdjust="spacing">Joel Embiid</text>
<text x="1062.2" y="486.9" class="lb" textLength="113.5" lengthAdjust="spacing">Karl-Anthony Towns</text>
<text x="511.6" y="478.3" class="lb" textLength="75.8" lengthAdjust="spacing">Ayo Dosunmu</text>
<text x="304.5" y="483.3" class="lb" textLength="52.9" lengthAdjust="spacing">Tre Jones</text>
<text x="656.6" y="492.3" class="lb" textLength="58.2" lengthAdjust="spacing">Alec Burks</text>
<text x="525.5" y="498.1" class="lb" textLength="57.6" lengthAdjust="spacing">Al Horford</text>
<text x="861.5" y="497.5" class="lb" textLength="61.7" lengthAdjust="spacing">Saddiq Bey</text>
<text x="199.6" y="508.3" class="lb" textLength="106.4" lengthAdjust="spacing">Facundo Campazzo</text>
<text x="713.4" y="514.3" class="lb" textLength="75.9" lengthAdjust="spacing">Bam Adebayo</text>
<text x="791.5" y="514.3" class="lb" textLength="80.8" lengthAdjust="spacing">Nikola Vučević</text>
<text x="942.0" y="516.3" class="lb" textLength="74.0" lengthAdjust="spacing">Jaylen Brown</text>
<text x="351.5" y="527.3" class="lb" textLength="55.9" lengthAdjust="spacing">Lonzo Ball</text>
<text x="864.7" y="533.9" class="lb" textLength="57.0" lengthAdjust="spacing">RJ Barrett</text>
<text x="847.9" y="552.2" class="lb" textLength="101.9" lengthAdjust="spacing">Jonas Valančiūnas</text>
<text x="225.4" y="553.3" class="lb" textLength="65.3" lengthAdjust="spacing">Alex Caruso</text>
<text x="838.6" y="572.3" class="lb" textLength="75.8" lengthAdjust="spacing">Gary Trent Jr.</text>
<text x="708.3" y="579.5" class="lb" textLength="85.9" lengthAdjust="spacing">Christian Wood</text>
<text x="164.6" y="587.0" class="lb" textLength="74.4" lengthAdjust="spacing">Trent Forrest</text>
<text x="820.3" y="589.1" class="lb" textLength="99.9" lengthAdjust="spacing">Bojan Bogdanović</text>
<text x="675.6" y="600.3" class="lb" textLength="82.9" lengthAdjust="spacing">Deandre Ayton</text>
<text x="86.4" y="632.3" class="lb" textLength="70.1" lengthAdjust="spacing">Rajon Rondo</text>
<text x="704.6" y="636.0" class="lb" textLength="71.4" lengthAdjust="spacing">Bobby Portis</text>
<text x="583.5" y="648.3" class="lb" textLength="96.0" lengthAdjust="spacing">Carmelo Anthony</text>
<text x="129.4" y="658.2" class="lb" textLength="57.2" lengthAdjust="spacing">Tony Snell</text>
<text x="372.5" y="683.0" class="lb" textLength="100.9" lengthAdjust="spacing">Hassan Whiteside</text>
<text x="503.4" y="684.0" class="lb" textLength="76.4" lengthAdjust="spacing">Chris Boucher</text>
<text x="253.8" y="693.3" class="lb" textLength="80.2" lengthAdjust="spacing">Isaiah Jackson</text>
</g></svg></body></html>
